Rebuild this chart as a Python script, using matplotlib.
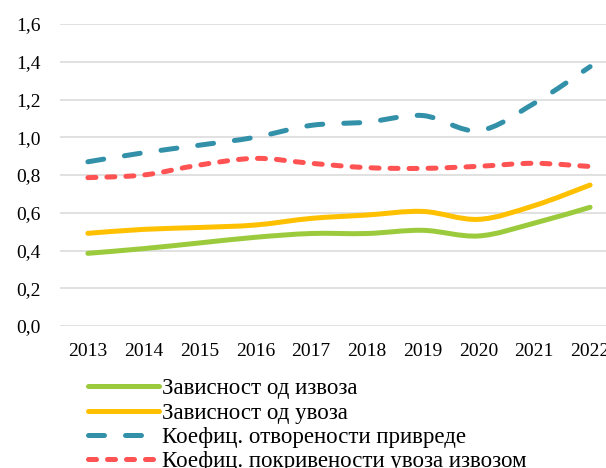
import matplotlib
matplotlib.use("Agg")
import matplotlib.pyplot as plt
from matplotlib.path import Path
from matplotlib.patches import PathPatch
from matplotlib.lines import Line2D
from matplotlib.ticker import FuncFormatter

# ---- data ----
years = [2013, 2014, 2015, 2016, 2017, 2018, 2019, 2020, 2021, 2022]
zavisnost_izvoz = [0.385, 0.41, 0.44, 0.47, 0.49, 0.49, 0.507, 0.477, 0.545, 0.629]
zavisnost_uvoz = [0.491, 0.512, 0.522, 0.535, 0.57, 0.588, 0.607, 0.565, 0.638, 0.747]
otvorenost = [0.87, 0.918, 0.958, 1.0, 1.063, 1.08, 1.115, 1.035, 1.18, 1.374]
pokrivenost = [0.786, 0.80, 0.853, 0.888, 0.862, 0.839, 0.835, 0.846, 0.862, 0.845]

labels = ["Зависност од извоза", "Зависност од увоза",
          "Коефиц. отворености привреде", "Коефиц. покривености увоза извозом"]
colors = ["#9BCB3C", "#FFC000", "#3291A9", "#FF5252"]

plt.rcParams['font.family'] = ['Liberation Serif', 'DejaVu Serif']

fig = plt.figure(figsize=(6.06, 4.68), dpi=100)
# axes runs past the right edge, the reference is cropped there
ax = fig.add_axes([60 / 606, 142 / 468, 558 / 606, 302 / 468])


def smooth_path(xs, ys):
    # excel-like smoothed line: catmull-rom turned into cubic beziers
    n = len(xs)
    verts = [(xs[0], ys[0])]
    codes = [Path.MOVETO]
    for i in range(n - 1):
        i0 = max(i - 1, 0)
        i3 = min(i + 2, n - 1)
        c1 = (xs[i] + (xs[i + 1] - xs[i0]) / 6, ys[i] + (ys[i + 1] - ys[i0]) / 6)
        c2 = (xs[i + 1] - (xs[i3] - xs[i]) / 6, ys[i + 1] - (ys[i3] - ys[i]) / 6)
        verts += [c1, c2, (xs[i + 1], ys[i + 1])]
        codes += [Path.CURVE4] * 3
    return Path(verts, codes)


lw = 3.6
styles = [
    dict(linestyle='-'),
    dict(linestyle='-'),
    dict(linestyle=(0, (3.2, 4.2))),
    dict(linestyle=(0, (1.6, 2.2))),
]
series = [zavisnost_izvoz, zavisnost_uvoz, otvorenost, pokrivenost]
xpos = list(range(len(years)))

handles = []
for vals, col, st, lab in zip(series, colors, styles, labels):
    patch = PathPatch(smooth_path(xpos, vals), facecolor='none', edgecolor=col,
                      linewidth=lw, capstyle='round', joinstyle='round', zorder=3, **st)
    ax.add_patch(patch)
    handles.append(Line2D([], [], color=col, linewidth=lw, solid_capstyle='round',
                          dash_capstyle='round', **st))

ax.set_xlim(-0.5, len(years) - 0.5)
ax.set_ylim(0, 1.6)
ax.set_yticks([0, 0.2, 0.4, 0.6, 0.8, 1.0, 1.2, 1.4, 1.6])
ax.yaxis.set_major_formatter(FuncFormatter(lambda v, p: f"{v:.1f}".replace('.', ',')))
ax.set_xticks(xpos)
ax.set_xticklabels([str(y) for y in years])
ax.grid(axis='y', color='#D9D9D9', linewidth=1.1)
ax.set_axisbelow(True)
for s in ax.spines.values():
    s.set_visible(False)
ax.tick_params(axis='both', length=0, labelsize=14)
ax.tick_params(axis='y', pad=14)
ax.tick_params(axis='x', pad=12)

fig.legend(handles, labels, loc='upper left', bbox_to_anchor=(88 / 606, 1 - 378 / 468),
           frameon=False, fontsize=16.5, handlelength=3.1, handletextpad=0.13,
           labelspacing=0.15, borderpad=0, borderaxespad=0)

fig.savefig('out.png', dpi=100)
